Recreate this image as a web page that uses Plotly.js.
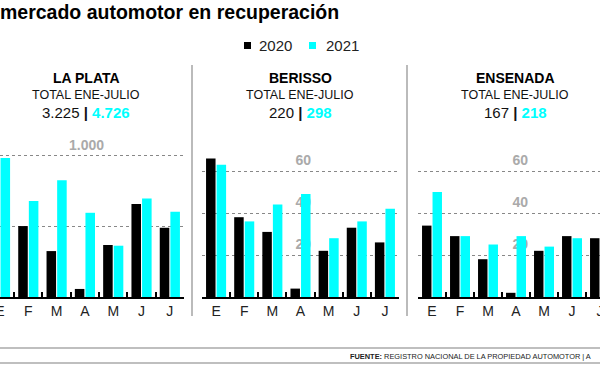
<!DOCTYPE html>
<html><head><meta charset="utf-8">
<script src="https://cdn.plot.ly/plotly-3.0.1.min.js"></script>
<style>html,body{margin:0;padding:0;background:#fff;overflow:hidden}</style>
</head><body><div id="chart" style="width:600px;height:365px"></div>
<script>
// ---- data ----
const meses = ['Ene','Feb','Mar','Abr','May','Jun','Jul'];
const mesLetra = ['E','F','M','A','M','J','J'];
const laPlata2020 = [825, 502, 325, 57, 368, 658, 490];
const laPlata2021 = [983, 679, 827, 596, 363, 698, 603];
const berisso2020 = [66, 38, 31, 4, 22, 33, 26];
const berisso2021 = [63, 36, 44, 49, 28, 36, 42];
const ensenada2020 = [34, 29, 18, 2, 22, 29, 28];
const ensenada2021 = [50, 29, 25, 29, 24, 28, 33];
const panelNames = ['LA PLATA','BERISSO','ENSENADA'];
const totals2020 = ['3.225','220','167'];
const totals2021 = ['4.726','298','218'];
const gridVals = [[500,1000],[20,40,60],[20,40,60]];
const gridText = [['','1.000'],['20','40','60'],['20','40','60']];
const seriesNames = ['2020','2021'];

// ---- styling / geometry ----
const W = 600, H = 365;
const C20 = '#000000', C21 = '#00ffff';
const px = x => x / W;
const py = y => 1 - y / H;
const xDomains = [[0, 184], [202, 399], [418, 600]];
const xRanges = [[0.0, 6.5], [-0.5, 6.5], [-0.5, 6.0]];
const yRanges = [[0, 1252.7], [0, 84.3], [0, 84.3]];
const labelPos = [104, 311, 528];
const centers = [86, 300, 515];
const yDom = [py(297), py(120)];

const data2020 = [laPlata2020, berisso2020, ensenada2020];
const data2021 = [laPlata2021, berisso2021, ensenada2021];

const traces = [];
const layout = {
  width: W, height: H,
  margin: {l: 0, r: 0, t: 0, b: 0, pad: 0},
  paper_bgcolor: '#fff', plot_bgcolor: 'rgba(0,0,0,0)',
  barmode: 'group', bargap: 0.25, bargroupgap: 0.1,
  showlegend: false,
  title: {text: 'mercado automotor en recuperación', x: 0, xanchor: 'left', xref: 'paper',
          y: py(12), yanchor: 'middle', yref: 'container',
          font: {family: 'Liberation Sans', size: 19.5, weight: 'bold', color: '#000'}},
  annotations: [], shapes: []
};

for (let i = 0; i < 3; i++) {
  const xa = i === 0 ? 'x' : 'x' + (i + 1);
  const ya = i === 0 ? 'y' : 'y' + (i + 1);
  const xk = i === 0 ? 'xaxis' : 'xaxis' + (i + 1);
  const yk = i === 0 ? 'yaxis' : 'yaxis' + (i + 1);
  traces.push({type: 'bar', x: meses, y: data2020[i], xaxis: xa, yaxis: ya, name: seriesNames[0],
               marker: {color: C20, line: {width: 0}}, hoverinfo: 'skip'});
  traces.push({type: 'bar', x: meses, y: data2021[i], xaxis: xa, yaxis: ya, name: seriesNames[1],
               marker: {color: C21, line: {width: 0}}, hoverinfo: 'skip'});
  layout[xk] = {
    domain: [px(xDomains[i][0]), px(xDomains[i][1])], range: xRanges[i], anchor: ya,
    type: 'category', categoryorder: 'array', categoryarray: meses,
    tickmode: 'array', tickvals: meses, ticktext: mesLetra, tickson: 'boundaries',
    ticks: 'inside', ticklen: 5, tickwidth: 2, tickcolor: '#000',
    showline: true, linecolor: '#000', linewidth: 2, showgrid: false, zeroline: false,
    tickfont: {family: 'Liberation Sans', size: 14, color: '#222'}, fixedrange: true
  };
  layout[yk] = {
    domain: yDom, range: yRanges[i], anchor: 'free', position: px(labelPos[i]),
    tickmode: 'array', tickvals: gridVals[i], ticktext: gridText[i],
    ticks: '', showline: false, zeroline: false, layer: 'below traces',
    showgrid: true, gridcolor: '#888', griddash: 'dot', gridwidth: 1,
    ticklabelshift: -11,
    tickfont: {family: 'Liberation Sans', size: 14, weight: 'bold', color: '#aaa'}, fixedrange: true
  };
  const cx = px(centers[i]);
  layout.annotations.push(
    {text: '<b>' + panelNames[i] + '</b>', x: cx, y: py(78), xref: 'paper', yref: 'paper',
     xanchor: 'center', yanchor: 'middle', showarrow: false,
     font: {family: 'Liberation Sans', size: 14, color: '#000'}},
    {text: 'TOTAL ENE-JULIO', x: cx, y: py(95), xref: 'paper', yref: 'paper',
     xanchor: 'center', yanchor: 'middle', showarrow: false,
     font: {family: 'Liberation Sans', size: 12.5, color: '#111'}},
    {text: totals2020[i] + ' <b>|</b> <b><span style="color:' + C21 + '">' + totals2021[i] + '</span></b>',
     x: cx, y: py(112), xref: 'paper', yref: 'paper',
     xanchor: 'center', yanchor: 'middle', showarrow: false,
     font: {family: 'Liberation Sans', size: 15, color: '#111'}}
  );
}

// legend (squares + labels)
const legSquareX = [244, 309], legTextX = [257, 324], legColors = [C20, C21];
for (let k = 0; k < 2; k++) {
  layout.shapes.push({type: 'rect', xref: 'paper', yref: 'paper',
    x0: px(legSquareX[k]), x1: px(legSquareX[k] + 7), y0: py(49), y1: py(42),
    fillcolor: legColors[k], line: {width: 0}});
  layout.annotations.push({text: seriesNames[k], x: px(legTextX[k]), y: py(45),
    xref: 'paper', yref: 'paper', xanchor: 'left', yanchor: 'middle', showarrow: false,
    font: {family: 'Liberation Sans', size: 15, color: '#222'}});
}

// dividers
[192, 407].forEach(x => layout.shapes.push({type: 'line', xref: 'paper', yref: 'paper',
  x0: px(x), x1: px(x), y0: py(65), y1: py(316), line: {color: '#bbb', width: 2}}));
[348, 363].forEach(y => layout.shapes.push({type: 'line', xref: 'paper', yref: 'paper',
  x0: 0, x1: 1, y0: py(y), y1: py(y), line: {color: '#aaa', width: 1.5}}));

layout.annotations.push({text: '<b>FUENTE:</b> REGISTRO NACIONAL DE LA PROPIEDAD AUTOMOTOR | A',
  x: px(348), y: py(356), xref: 'paper', yref: 'paper', xanchor: 'left', yanchor: 'middle',
  showarrow: false, font: {family: 'Liberation Sans', size: 7.4, color: '#222'}});

Plotly.newPlot('chart', traces, layout, {displayModeBar: false, staticPlot: true});
</script></body></html>
